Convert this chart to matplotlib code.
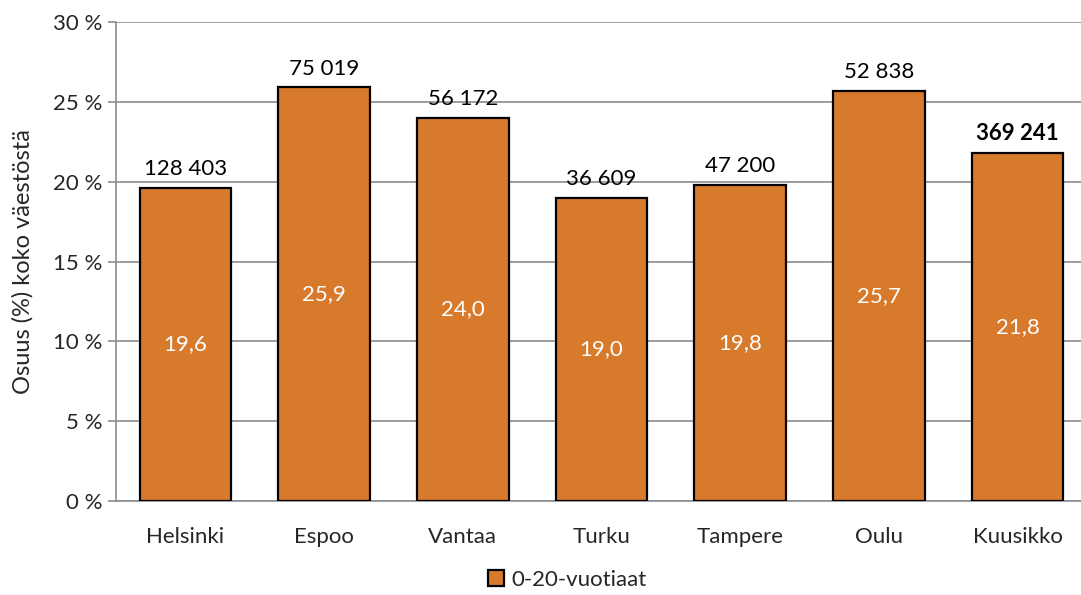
import matplotlib
matplotlib.use("Agg")
import matplotlib.pyplot as plt
import numpy as np

# Kaupungit ja osuudet
kaupungit = ["Helsinki", "Espoo", "Vantaa", "Turku", "Tampere", "Oulu", "Kuusikko"]
osuudet = [19.6, 25.9, 24.0, 19.0, 19.8, 25.7, 21.8]
lukumaarat = ["128 403", "75 019", "56 172", "36 609", "47 200", "52 838", "369 241"]
sarja = "0-20-vuotiaat"

plt.rcParams["font.family"] = ["Lato", "DejaVu Sans"]
teksti = "#262626"
vari = "#D87A2B"
fs = 16

W, H = 1081, 595
fig = plt.figure(figsize=(W / 100, H / 100), dpi=100)
ax = fig.add_axes([116 / W, 1 - 501 / H, (1087 - 116) / W, (501 - 22) / H])

x = np.arange(len(kaupungit))
bars = ax.bar(x, osuudet, width=0.66, color=vari, edgecolor="black", linewidth=1.6,
              zorder=3, label=sarja)

for i, (b, v, n) in enumerate(zip(bars, osuudet, lukumaarat)):
    ax.text(b.get_x() + b.get_width() / 2, v / 2, f"{v:.1f}".replace(".", ","),
            ha="center", va="center", color="white", fontsize=fs, zorder=4)
    ax.text(b.get_x() + b.get_width() / 2, v + 0.55, n, ha="center", va="bottom",
            color="black", fontsize=fs,
            fontweight="bold" if i == len(kaupungit) - 1 else "normal")

ax.set_xlim(-0.5, len(kaupungit) - 0.5)
ax.set_ylim(0, 30)
ax.set_yticks(range(0, 31, 5))
ax.set_yticklabels([f"{t} %" for t in range(0, 31, 5)])
ax.set_xticks(x)
ax.set_xticklabels(kaupungit)
ax.yaxis.grid(True, color="#8c8c8c", linewidth=1.2, zorder=0)
ax.set_axisbelow(True)

for s in ["top", "right"]:
    ax.spines[s].set_visible(False)
ax.spines["left"].set_color("#8c8c8c")
ax.spines["bottom"].set_color("#8c8c8c")
ax.spines["left"].set_linewidth(1.2)
ax.spines["bottom"].set_linewidth(1.2)
ax.tick_params(axis="y", length=6, width=1.2, color="#8c8c8c", labelsize=fs,
               labelcolor=teksti, pad=4)
ax.tick_params(axis="x", length=0, labelsize=fs, labelcolor=teksti, pad=19)

ax.set_ylabel("Osuus (%) koko väestöstä", fontsize=fs + 1, color=teksti, labelpad=14)

leg = fig.legend(handles=[bars], labels=[sarja], loc="center",
                 bbox_to_anchor=(567 / W, 1 - 580 / H), frameon=False,
                 fontsize=fs, handlelength=0.75, handleheight=0.75, handletextpad=0.3,
                 labelcolor=teksti)

fig.savefig("out.png", dpi=100)
